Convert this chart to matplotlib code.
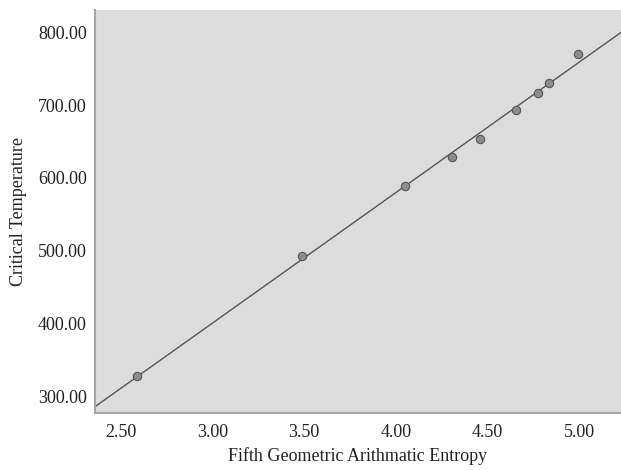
import numpy as np
import matplotlib
matplotlib.use("Agg")
import matplotlib.pyplot as plt

# values
entropy = [2.586, 3.49, 4.05, 4.308, 4.458, 4.658, 4.778, 4.835, 4.993]
crit_temp = [328, 492, 589, 629, 654, 693, 717, 731, 771]
xticks = [2.5, 3.0, 3.5, 4.0, 4.5, 5.0]
yticks = [300, 400, 500, 600, 700, 800]

plt.rcParams['font.family'] = ['Liberation Serif', 'DejaVu Serif']

fig = plt.figure(figsize=(6.21, 4.70), dpi=100)
ax = fig.add_axes([0.153, 0.121, 0.847, 0.858])
ax.set_facecolor('#dcdcdc')

# linear fit
slope, icpt = np.polyfit(entropy, crit_temp, 1)
xlim = (2.358, 5.229)
xs = np.array(xlim)
ax.plot(xs, slope * xs + icpt, color='#555555', lw=1.0, zorder=2)

ax.scatter(entropy, crit_temp, s=36, facecolor='#8c8c8c', edgecolor='#555555',
           linewidth=0.8, zorder=3)

ax.set_xlim(*xlim)
ax.set_ylim(276.5, 831)
ax.set_xticks(xticks)
ax.set_xticklabels(['%.2f' % v for v in xticks])
ax.set_yticks(yticks)
ax.set_yticklabels(['%.2f' % v for v in yticks])
ax.tick_params(length=0, labelsize=13, colors='#222222')
ax.tick_params(axis='x', pad=8)
ax.tick_params(axis='y', pad=6)

for s in ['top', 'right']:
    ax.spines[s].set_visible(False)
for s in ['left', 'bottom']:
    ax.spines[s].set_color('#a6a6a6')
    ax.spines[s].set_linewidth(1.5)

ax.set_xlabel('Fifth Geometric Arithmatic Entropy', fontsize=13, color='#222222', labelpad=4)
ax.set_ylabel('Critical Temperature', fontsize=13, color='#222222', labelpad=8)

fig.savefig('out.png', dpi=100)
